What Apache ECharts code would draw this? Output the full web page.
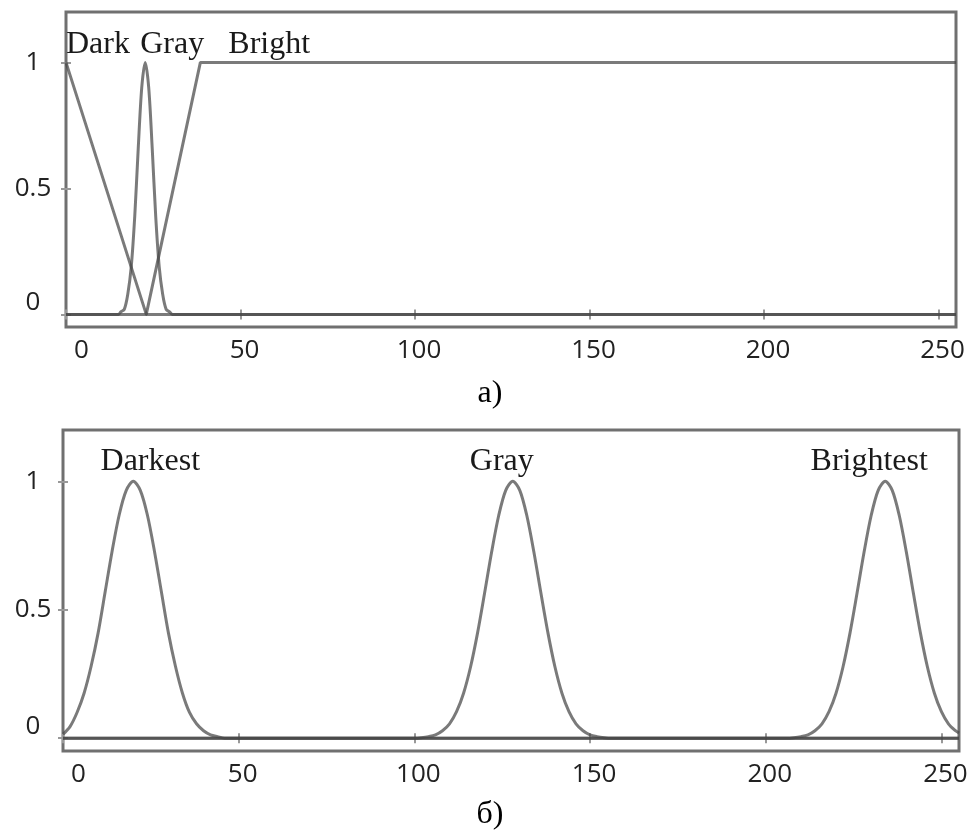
<!DOCTYPE html>
<html>
<head>
<meta charset="utf-8">
<script src="https://cdn.jsdelivr.net/npm/echarts@6/dist/echarts.min.js"></script>
<style>
    html, body { margin: 0; padding: 0; background: #fff; }
    #chart { width: 976px; height: 833px; }
</style>
</head>
<body>
<div id="chart"></div>
<script>
// tick labels
const xTicks = [0, 50, 100, 150, 200, 250];
const yTicks = [0, 0.5, 1];

// panel а) membership functions
const darkX = [0, 23, 255];
const darkY = [1, 0, 0];
const grayAX = [0, 15, 15.7, 16.7, 17.7, 18.7, 19.7, 20.7, 21.7, 22.7, 23.7, 24.7, 25.7, 26.7, 27.7, 28.7, 29.7, 30.5, 255];
const grayAY = [0, 0, 0.01, 0.02, 0.08, 0.19, 0.39, 0.66, 0.9, 1, 0.9, 0.66, 0.39, 0.19, 0.08, 0.02, 0.01, 0, 0];
const brightX = [0, 23, 38.5, 255];
const brightY = [0, 0, 1, 1];

// panel б) membership functions
const darkestX = [0, 2, 4, 6, 8, 10, 12, 14, 16, 18, 20, 22, 24, 26, 28, 30, 32, 34, 36, 38, 40, 42, 44, 46, 255];
const darkestY = [0.015, 0.045, 0.1, 0.175, 0.28, 0.41, 0.57, 0.73, 0.87, 0.965, 1, 0.965, 0.87, 0.73, 0.57, 0.41, 0.28, 0.175, 0.1, 0.056, 0.029, 0.013, 0.006, 0, 0];
const grayBX = [0, 100, 102, 104, 106, 108, 110, 112, 114, 116, 118, 120, 122, 124, 126, 128, 130, 132, 134, 136, 138, 140, 142, 144, 146, 148, 150, 152, 154, 156, 255];
const grayBY = [0, 0, 0.002, 0.006, 0.013, 0.029, 0.056, 0.103, 0.175, 0.278, 0.411, 0.566, 0.726, 0.867, 0.965, 1, 0.965, 0.867, 0.726, 0.566, 0.411, 0.278, 0.175, 0.103, 0.056, 0.029, 0.013, 0.006, 0.002, 0, 0];
const brightestX = [0, 206, 208, 210, 212, 214, 216, 218, 220, 222, 224, 226, 228, 230, 232, 234, 236, 238, 240, 242, 244, 246, 248, 250, 252, 254, 255];
const brightestY = [0, 0, 0.002, 0.006, 0.013, 0.029, 0.056, 0.103, 0.175, 0.278, 0.411, 0.566, 0.726, 0.867, 0.965, 1, 0.965, 0.867, 0.726, 0.566, 0.411, 0.278, 0.175, 0.103, 0.056, 0.029, 0.02];

const lineColor = 'rgba(70,70,70,0.72)';
const tickFont = { fontFamily: 'Open Sans', fontSize: 26, color: '#222' };
const nameFont = { fontFamily: 'Liberation Serif', fontSize: 32, color: '#1a1a1a' };

function pairs(xs, ys) {
    return xs.map((x, i) => [x, ys[i]]);
}

function xAxisPair(gridIndex, margin) {
    const tick = { show: true, inside: true, length: 5, customValues: xTicks, lineStyle: { color: '#999', width: 2 } };
    return [
        {
            gridIndex, type: 'value', position: 'bottom', min: 0, max: 255,
            axisLine: { show: false }, splitLine: { show: false }, axisTick: tick,
            axisLabel: Object.assign({ customValues: xTicks, margin, padding: [0, 0, 0, 8], alignMinLabel: 'left' }, tickFont),
        },
        {
            gridIndex, type: 'value', position: 'top', min: 0, max: 255,
            axisLine: { show: false }, splitLine: { show: false }, axisTick: tick,
            axisLabel: { show: false },
        },
    ];
}

function yAxisPair(gridIndex, margin) {
    const tick = { show: true, inside: true, length: 5, customValues: yTicks, lineStyle: { color: '#999', width: 2 } };
    return [
        {
            gridIndex, type: 'value', position: 'left', min: -0.05, max: 1.2,
            axisLine: { show: false }, splitLine: { show: false }, axisTick: tick,
            axisLabel: Object.assign({
                customValues: yTicks, margin, align: 'center',
                formatter: (v) => (v === 0 ? '{z|0}' : String(v)),
                rich: { z: Object.assign({ padding: [0, 0, 24, 0] }, tickFont) },
            }, tickFont),
        },
        {
            gridIndex, type: 'value', position: 'right', min: -0.05, max: 1.2,
            axisLine: { show: false }, splitLine: { show: false }, axisTick: tick,
            axisLabel: { show: false },
        },
    ];
}

function curve(name, xs, ys, axisIndex, smooth, label) {
    return {
        name, type: 'line', xAxisIndex: axisIndex, yAxisIndex: axisIndex,
        data: pairs(xs, ys), showSymbol: false, smooth,
        lineStyle: { color: lineColor, width: 3 },
        markPoint: {
            symbol: 'circle', symbolSize: 0, animation: false,
            data: [{ type: 'max' }],
            label: Object.assign({
                show: true, position: 'inside', formatter: name, verticalAlign: 'middle',
            }, nameFont, label),
        },
    };
}

const myChart = echarts.init(document.getElementById('chart'));
const option = {
    animation: false,
    grid: [
        { left: 66, top: 12, width: 890, height: 315, show: true, borderColor: '#707070', borderWidth: 3 },
        { left: 63, top: 430, width: 896, height: 321, show: true, borderColor: '#707070', borderWidth: 3 },
    ],
    xAxis: [...xAxisPair(0, 11), ...xAxisPair(1, 11)],
    yAxis: [...yAxisPair(0, 33), ...yAxisPair(1, 30)],
    series: [
        curve('Dark', darkX, darkY, 0, false, { align: 'left', offset: [0, -18] }),
        curve('Gray', grayAX, grayAY, 0, 0.3, { align: 'left', offset: [-5, -18] }),
        curve('Bright', brightX, brightY, 0, false, { align: 'left', offset: [28, -18] }),
        curve('Darkest', darkestX, darkestY, 2, 0.3, { align: 'center', offset: [17, -20] }),
        curve('Gray', grayBX, grayBY, 2, 0.3, { align: 'center', offset: [-11, -20] }),
        curve('Brightest', brightestX, brightestY, 2, 0.3, { align: 'center', offset: [-16, -20] }),
    ],
    graphic: [
        { type: 'text', x: 490, y: 394, style: Object.assign({ text: 'а)', align: 'center', verticalAlign: 'middle' }, nameFont) },
        { type: 'text', x: 490, y: 815, style: Object.assign({ text: 'б)', align: 'center', verticalAlign: 'middle' }, nameFont) },
    ],
};
myChart.setOption(option);
</script>
</body>
</html>
